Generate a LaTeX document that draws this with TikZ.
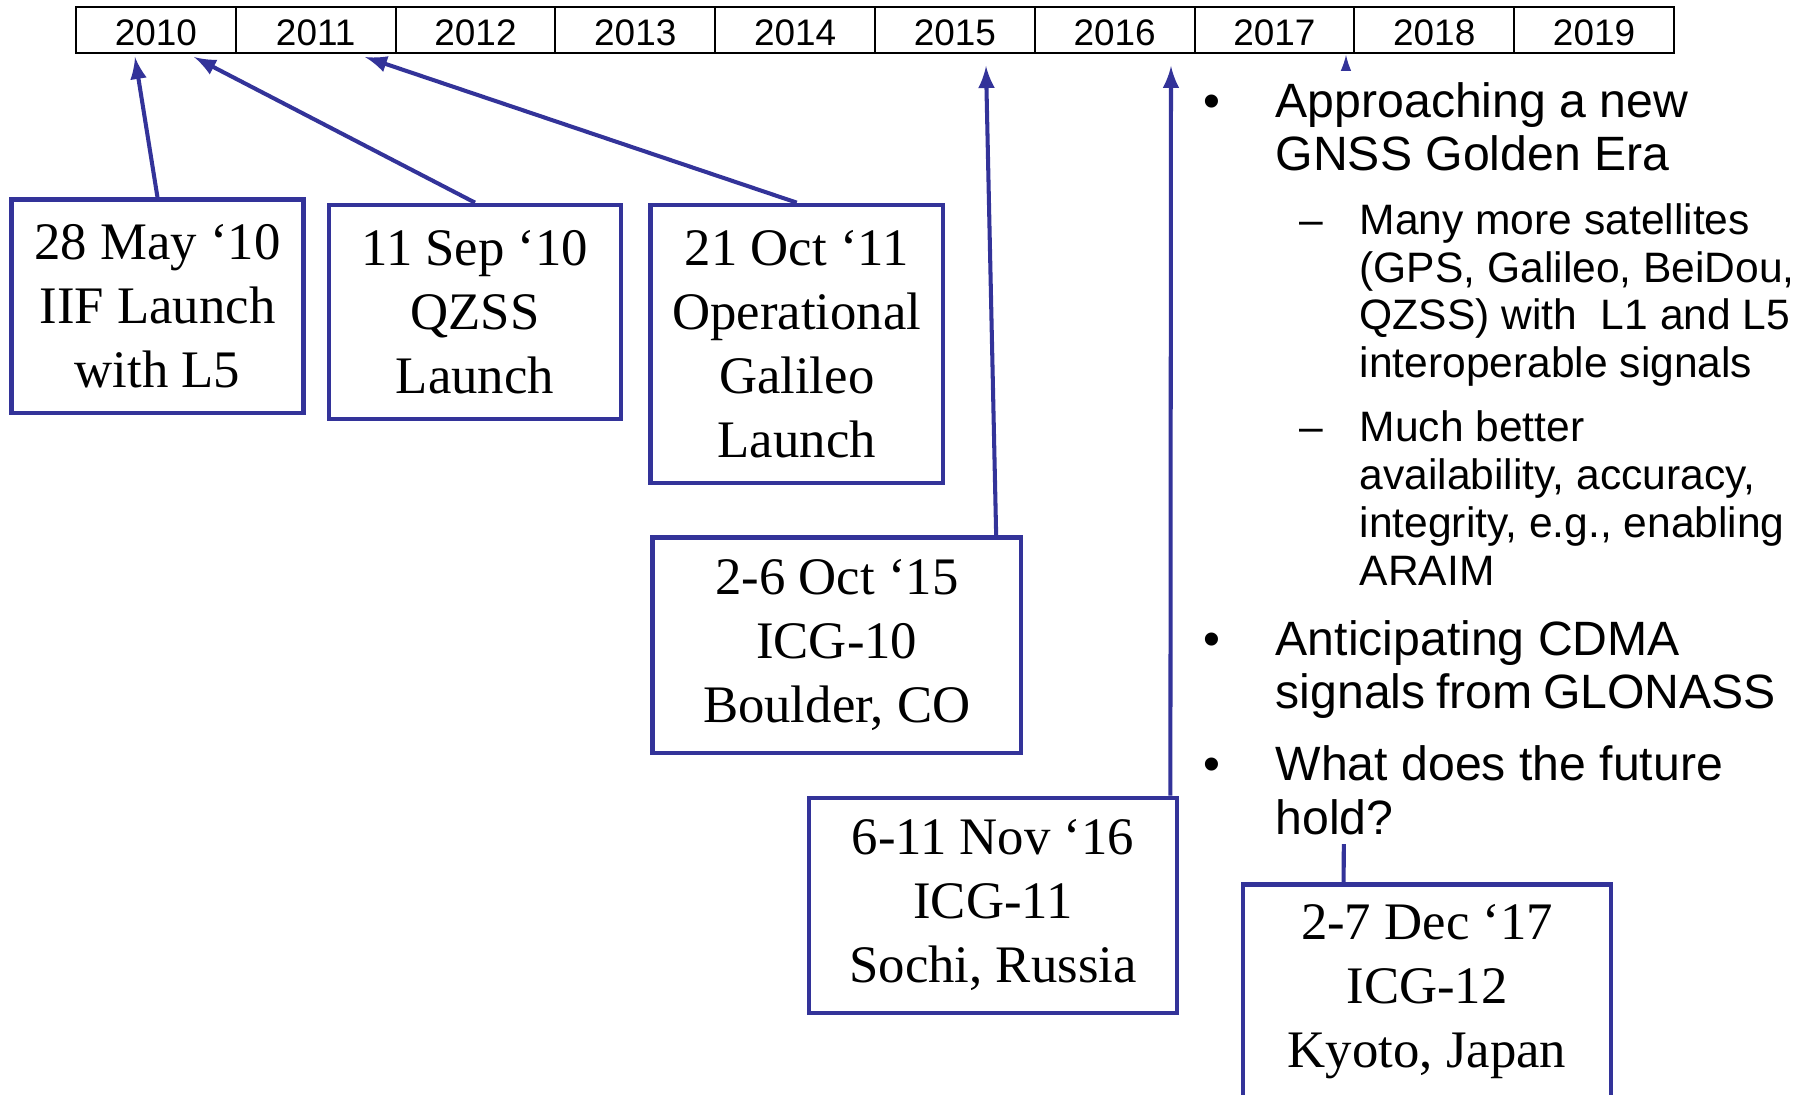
\documentclass[tikz,border=0pt]{standalone}
\usepackage{fontspec}
\setmainfont{Liberation Serif}
\setsansfont{Liberation Sans}
\usetikzlibrary{positioning,calc,arrows}
\definecolor{icgblue}{RGB}{51,51,153}
\newcommand{\yeartxt}{\sffamily\fontsize{10.5}{12}\selectfont}
\newcommand{\boxtxt}{\rmfamily\fontsize{15}{18.2}\selectfont}
\newcommand{\bigtxt}{\sffamily\fontsize{13.7}{15.1}\selectfont}
\newcommand{\subtxt}{\sffamily\fontsize{12.1}{13.6}\selectfont}

\begin{document}
\begin{tikzpicture}[x=0.01cm, y=-0.01cm, >=latex]

\tikzstyle{year}=[draw, line width=0.6pt, minimum width=1.597cm, minimum height=0.46cm, inner sep=0pt, outer sep=0pt, text height=0.305cm, text depth=0pt, font=\yeartxt]
\tikzstyle{event}=[draw=icgblue, line width=1.3pt, minimum width=2.92cm, minimum height=2.14cm, inner sep=0pt, align=center, font=\boxtxt]
\tikzstyle{wide event}=[event, minimum width=3.68cm, minimum height=2.15cm]
\tikzstyle{link}=[->, draw=icgblue, line width=1.15pt]
\tikzstyle{note}=[anchor=base west, inner sep=0pt]

\useasboundingbox (0,0) rectangle (1809,1095);

% timeline
\node[year, anchor=north west] (y2010) at (76,7) {2010};
\node[year, right=0pt of y2010] (y2011) {2011};
\node[year, right=0pt of y2011] (y2012) {2012};
\node[year, right=0pt of y2012] (y2013) {2013};
\node[year, right=0pt of y2013] (y2014) {2014};
\node[year, right=0pt of y2014] (y2015) {2015};
\node[year, right=0pt of y2015] (y2016) {2016};
\node[year, right=0pt of y2016] (y2017) {2017};
\node[year, right=0pt of y2017] (y2018) {2018};
\node[year, right=0pt of y2018] (y2019) {2019};

% events
\node[event, minimum height=2.13cm] (b1) at (157.5,306.3) {28 May ‘10\\IIF Launch\\with L5};
\node[event] (b2) at (475,312) {11 Sep ‘10\\QZSS\\Launch};
\node[event, minimum height=2.78cm, right=0.25cm of b2.north east, anchor=north west] (b3) {21 Oct ‘11\\Operational\\Galileo\\Launch};
\node[wide event, below=0.5cm of b3.south west, anchor=north west, xshift=0.02cm] (b4) {2-6 Oct ‘15\\ICG-10\\Boulder, CO};
\node[wide event, text depth=0.1cm] (b5) at (993,905.5) {6-11 Nov ‘16\\ICG-11\\Sochi, Russia};
\node[wide event, text depth=0.12cm] (b6) at (1427,992) {2-7 Dec ‘17\\ICG-12\\Kyoto, Japan};

\coordinate (t1) at (135,57);
\coordinate (t2) at (194,57);
\coordinate (t3) at (365,57);
\coordinate (t4) at (986,66);
\coordinate (t5) at (1171,66);
\coordinate (t6) at (1346,55);

\draw[link] (b1.north) -- (t1);
\draw[link] (b2.north) -- (t2);
\draw[link] (b3.north) -- (t3);
\draw[link] ([xshift=-0.27cm]b4.north east) -- (t4);
\draw[link] ([xshift=-0.09cm]b5.north east) -- (t5);
\draw[link] ([xshift=1.03cm]b6.north west) -- (t6);

% outlook
\fill[white] (1195,71) rectangle (1809,844);

\node[note] (bul1) at (1203,117.7) {\bigtxt\textbullet};
\node[note] (n1) at (1275,117.7) {\parbox[t]{5cm}{\bigtxt Approaching a new\\GNSS Golden Era}};
\node[note] (dash1) at (1299,234.2) {\subtxt\textendash};
\node[note] (n2) at (1359,234.2) {\parbox[t]{5cm}{\subtxt Many more satellites\\(GPS, Galileo, BeiDou,\\QZSS) with\ \ L1 and L5\\interoperable signals}};
\node[note] (dash2) at (1299,441.9) {\subtxt\textendash};
\node[note] (n3) at (1359,441.9) {\parbox[t]{5cm}{\subtxt Much better\\availability, accuracy,\\integrity, e.g., enabling\\ARAIM}};
\node[note] (bul2) at (1203,655.3) {\bigtxt\textbullet};
\node[note] (n4) at (1275,655.3) {\parbox[t]{5cm}{\bigtxt Anticipating CDMA\\signals from GLONASS}};
\node[note] (bul3) at (1203,781) {\bigtxt\textbullet};
\node[note] (n5) at (1275,781) {\parbox[t]{5cm}{\bigtxt What does the future\\hold?}};

\end{tikzpicture}
\end{document}
